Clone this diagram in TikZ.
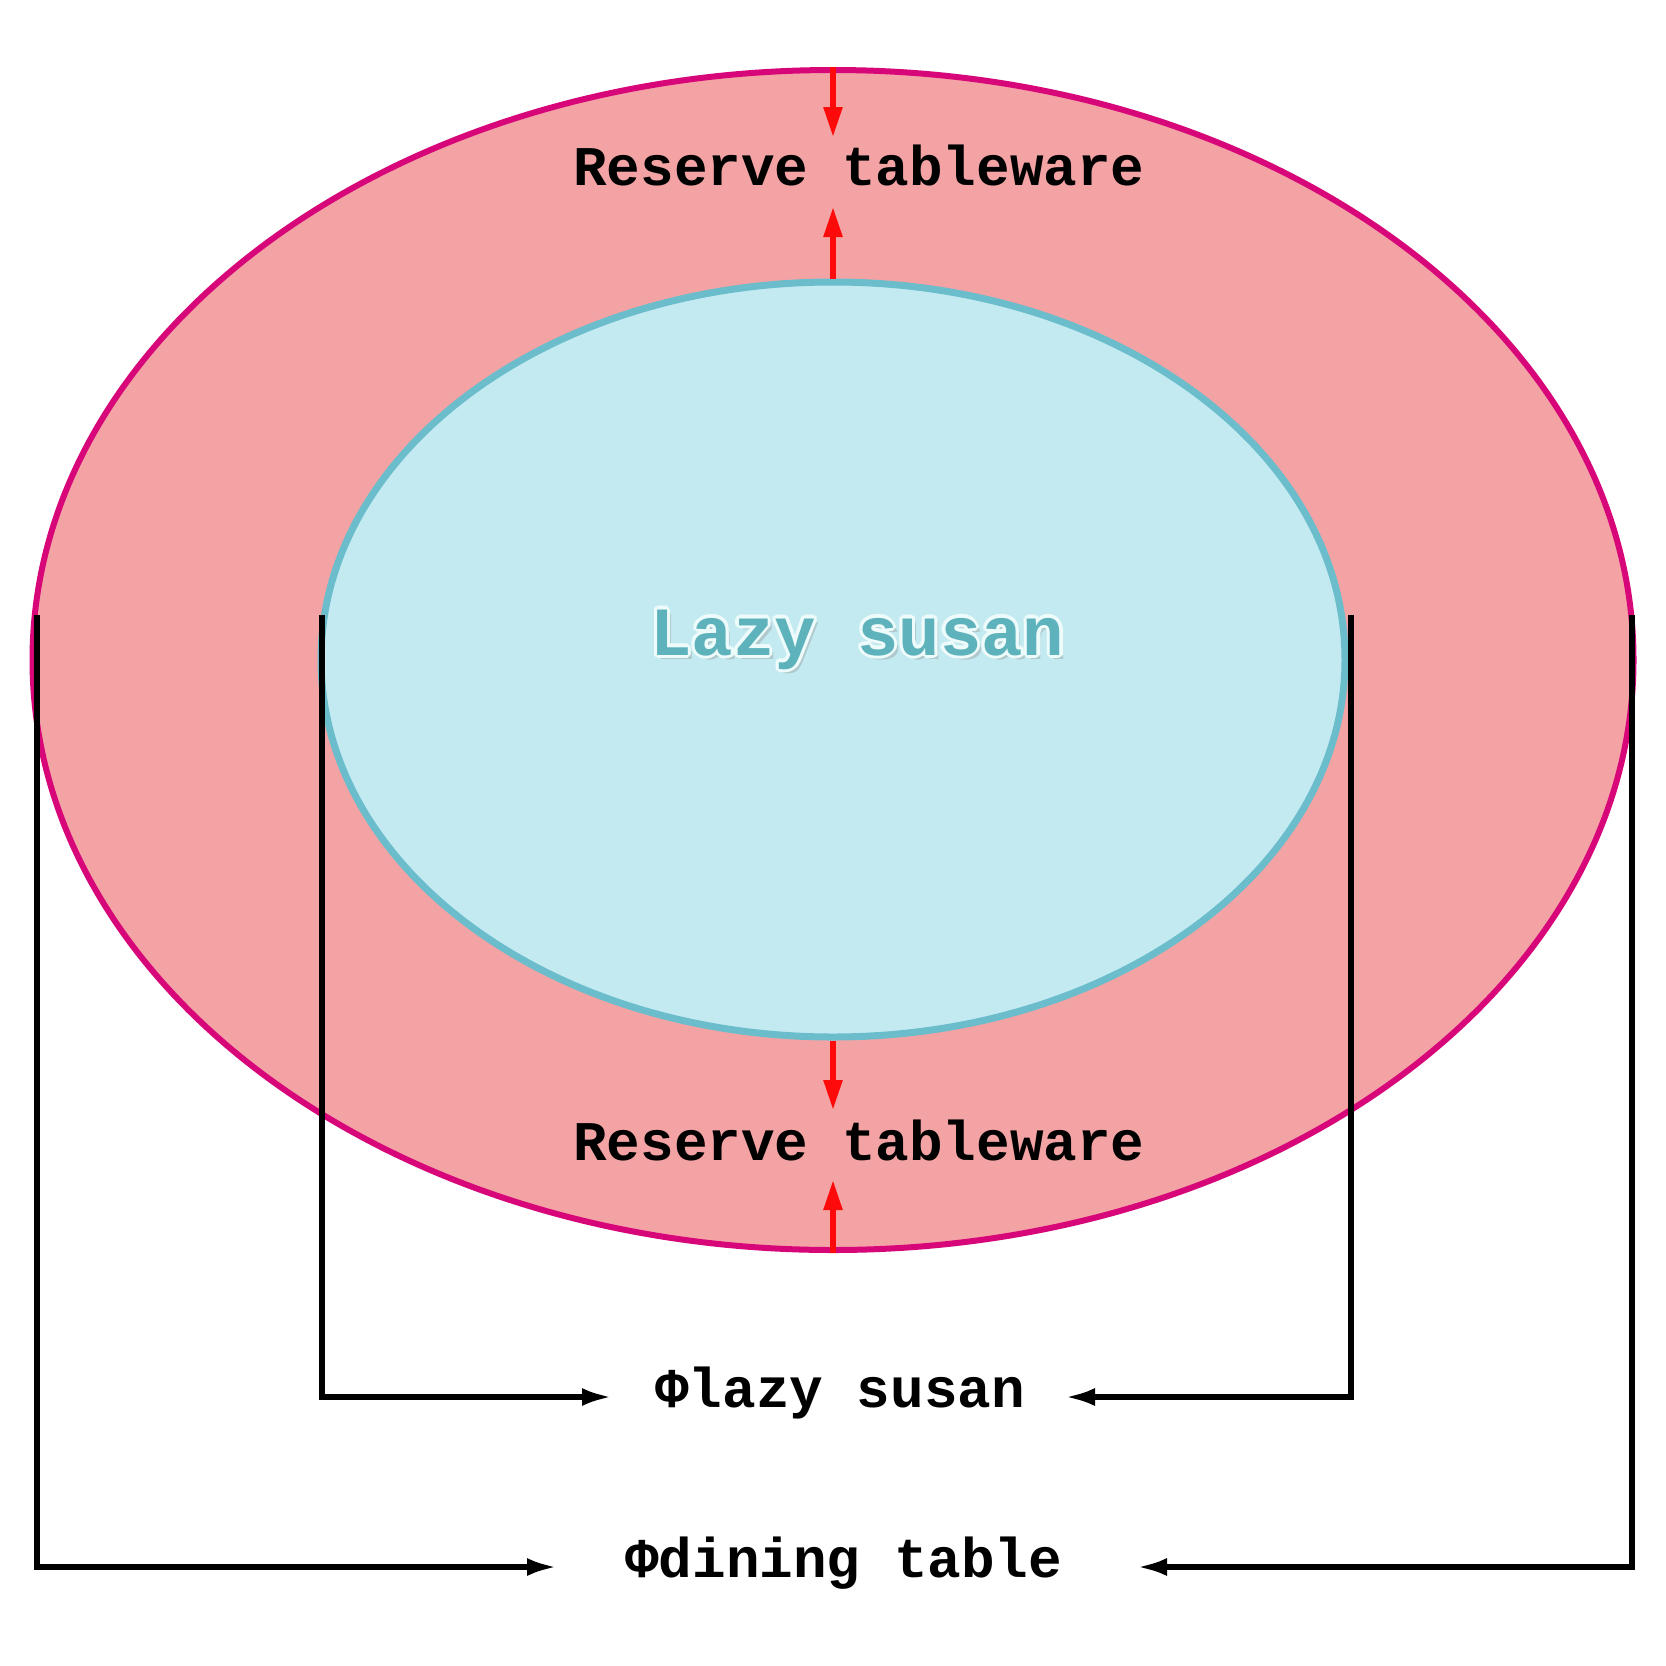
\documentclass[tikz,border=0pt]{standalone}
\usepackage{fontspec}
\setmonofont{Liberation Mono}
\usetikzlibrary{shapes.geometric,arrows.meta}
\definecolor{ringfill}{HTML}{F4A3A5}
\definecolor{ringline}{HTML}{D7077A}
\definecolor{discfill}{HTML}{C3EAF1}
\definecolor{discline}{HTML}{6BBDCB}
\definecolor{lazyteal}{HTML}{5EB2BC}
\definecolor{lazyglow}{HTML}{EEFBFB}
\definecolor{arrowred}{HTML}{FF0A0A}
\begin{document}
\begin{tikzpicture}[x=1pt,y=-1pt,
  ring/.style={ellipse, draw=ringline, fill=ringfill, line width=6pt, inner sep=0pt},
  disc/.style={ellipse, draw=discline, fill=discfill, line width=7pt, inner sep=0pt},
  redarrow/.style={draw=arrowred, line width=5.5pt, -{Triangle[length=30pt,width=18pt]}},
  dimline/.style={draw=black, line width=5.5pt, -{Latex[length=30pt,width=18pt]}},
  lbl/.style={font=\ttfamily\bfseries\fontsize{56}{60}\selectfont, inner sep=0pt, anchor=base west},
  lazytxt/.style={font=\ttfamily\bfseries\fontsize{69}{72}\selectfont, inner sep=0pt, anchor=base west}
]
\fill[white] (0,0) rectangle (1666,1666);
\useasboundingbox (0,0) rectangle (1666,1666);

% ellipses
\node[ring, minimum width=1601pt, minimum height=1180pt] (outer) at (833,660) {};
\node[disc, minimum width=1024pt, minimum height=755pt] (inner) at (833,659.5) {};

% labels
\node[lbl] (rtop) at (573,185) {Reserve tableware};
\node[lbl] (rbot) at (573,1160) {Reserve tableware};
\node[lbl] (phils) at (655,1407) {Φlazy susan};
\node[lbl] (phidt) at (625,1577) {Φdining table};

% Lazy susan with shadow and glow
\node[lazytxt, text=black!45, opacity=0.35] (lzshadow) at (654,659) {Lazy susan};
\foreach \a in {0,30,...,330}{
  \node[lazytxt, text=lazyglow] (lzg\a) at ([shift={(\a:3.2pt)}] 650,655) {Lazy susan};
}
\node[lazytxt, text=lazyteal] (lazy) at (650,655) {Lazy susan};

% red arrows
\coordinate (t1) at (833,137);
\coordinate (t2) at (833,207);
\coordinate (t3) at (833,1110);
\coordinate (t4) at (833,1180);
\draw[redarrow] (outer.north) -- (t1);
\draw[redarrow] (inner.north) -- (t2);
\draw[redarrow] (inner.south) -- (t3);
\draw[redarrow] (outer.south) -- (t4);

% dimension lines
\coordinate (olt) at (37,615);
\coordinate (ilt) at (322,615);
\coordinate (irt) at (1351,615);
\coordinate (ort) at (1632,615);
\coordinate (pl1) at (612,1397);
\coordinate (pr1) at (1065,1397);
\coordinate (pl2) at (557,1567);
\coordinate (pr2) at (1137,1567);
\draw[dimline] (ilt) |- (pl1);
\draw[dimline] (irt) |- (pr1);
\draw[dimline] (olt) |- (pl2);
\draw[dimline] (ort) |- (pr2);
\end{tikzpicture}
\end{document}
